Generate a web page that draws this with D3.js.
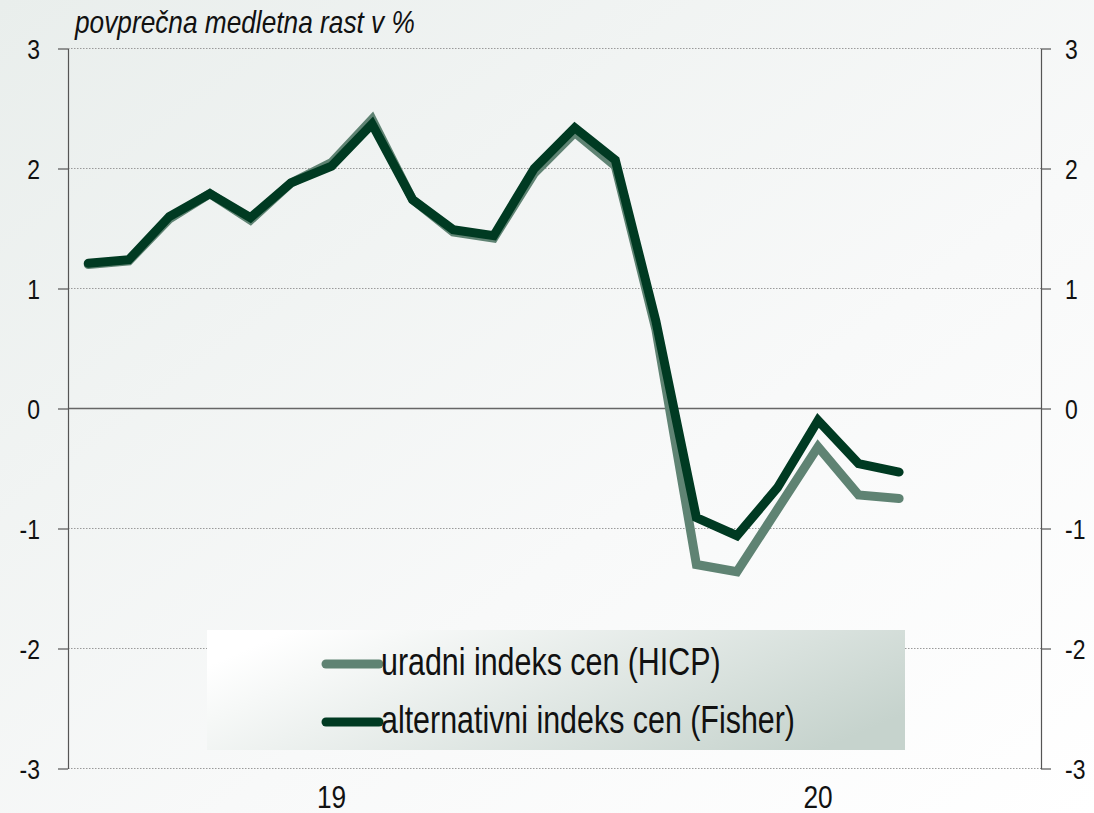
<!DOCTYPE html>
<html>
<head>
    <meta charset="utf-8">
    <title>Povprečna medletna rast</title>
    <script src="https://d3js.org/d3.v7.min.js"></script>
    <style>
        body { margin: 0; }
        text {
            font-family: "Liberation Sans Narrow", "Arial Narrow", "Liberation Sans", Arial, sans-serif;
            fill: #111;
        }
        .grid line { stroke: #9a9a9a; stroke-width: 1; stroke-dasharray: 1.5,1.5; }
        .axis path, .axis line { stroke: #555; stroke-width: 1.2; }
    </style>
</head>
<body>
    <svg width="1094" height="813"></svg>
    <script>
        // months Jan 2019 - Dec 2020
        var months = ["2019-01","2019-02","2019-03","2019-04","2019-05","2019-06",
                      "2019-07","2019-08","2019-09","2019-10","2019-11","2019-12",
                      "2020-01","2020-02","2020-03","2020-04","2020-05","2020-06",
                      "2020-07","2020-08","2020-09","2020-10","2020-11","2020-12"];
        var yearTicks = ["2019-07", "2020-07"];
        var yearLabels = ["19", "20"];

        var hicp   = [1.20, 1.23, 1.58, 1.79, 1.57, 1.88, 2.05, 2.41, 1.74, 1.47, 1.42,
                      1.96, 2.30, 2.02, 0.66, -1.30, -1.36, -0.84, -0.32, -0.72, -0.75];
        var fisher = [1.21, 1.24, 1.60, 1.79, 1.59, 1.88, 2.02, 2.37, 1.74, 1.49, 1.44,
                      2.00, 2.34, 2.07, 0.73, -0.91, -1.06, -0.66, -0.10, -0.46, -0.53];
        var yTicks = [-3, -2, -1, 0, 1, 2, 3];

        var svg = d3.select("svg"),
            width = +svg.attr("width"),
            height = +svg.attr("height");

        var mLeft = 68, mRight = 1041, mTop = 48.5, mBottom = 768.5;

        // squeeze text horizontally (no narrow font installed)
        function narrow (sel, k) {
            sel.each(function () {
                var w = this.getComputedTextLength();
                d3.select(this).attr("textLength", w * k).attr("lengthAdjust", "spacingAndGlyphs");
            });
        }

        // background
        var defs = svg.append("defs");
        var bg = defs.append("linearGradient").attr("id", "bg")
            .attr("x1", "0%").attr("y1", "0%").attr("x2", "100%").attr("y2", "100%");
        bg.append("stop").attr("offset", "0%").attr("stop-color", "#e9eeec");
        bg.append("stop").attr("offset", "60%").attr("stop-color", "#f8f9f9");
        bg.append("stop").attr("offset", "100%").attr("stop-color", "#ffffff");
        var lg = defs.append("linearGradient").attr("id", "lg")
            .attr("x1", "0%").attr("y1", "30%").attr("x2", "100%").attr("y2", "70%");
        lg.append("stop").attr("offset", "0%").attr("stop-color", "#ffffff");
        lg.append("stop").attr("offset", "100%").attr("stop-color", "#c6d3cd");

        svg.append("rect").attr("width", width).attr("height", height).attr("fill", "url(#bg)");

        var x = d3.scaleBand().domain(months).range([mLeft, mRight]);
        var y = d3.scaleLinear().domain([-3, 3]).range([mBottom, mTop]);
        var cx = d => x(d) + x.bandwidth() / 2;

        // gridlines
        svg.append("g").attr("class", "grid")
            .selectAll("line").data(yTicks.filter(d => d !== 0)).enter().append("line")
            .attr("x1", mLeft).attr("x2", mRight)
            .attr("y1", d => y(d)).attr("y2", d => y(d));
        svg.append("line")
            .attr("x1", mLeft).attr("x2", mRight)
            .attr("y1", y(0)).attr("y2", y(0))
            .attr("stroke", "#666").attr("stroke-width", 1.3);

        // axes
        var fmt = d => String(d);
        svg.append("g").attr("class", "axis")
            .attr("transform", "translate(" + mLeft + ",0)")
            .call(d3.axisLeft(y).tickValues(yTicks).tickFormat(fmt).tickSize(10).tickSizeOuter(0).tickPadding(18));
        svg.append("g").attr("class", "axis")
            .attr("transform", "translate(" + mRight + ",0)")
            .call(d3.axisRight(y).tickValues(yTicks).tickFormat(fmt).tickSize(10).tickSizeOuter(0).tickPadding(14));
        svg.selectAll(".axis text")
            .attr("font-size", 28).attr("fill", "#111").attr("dy", "0.36em")
            .call(narrow, 0.82);

        // x labels
        svg.append("g").selectAll("text").data(yearTicks).enter().append("text")
            .attr("x", d => cx(d)).attr("y", 808)
            .attr("text-anchor", "middle").attr("font-size", 32)
            .text((d, i) => yearLabels[i])
            .call(narrow, 0.82);

        // title
        svg.append("text").attr("x", 75).attr("y", 33)
            .attr("font-size", 32).attr("font-style", "italic")
            .text("povprečna medletna rast v %")
            .call(narrow, 0.82);

        // legend box
        svg.append("rect").attr("x", 207).attr("y", 630).attr("width", 698).attr("height", 120)
            .attr("fill", "url(#lg)");

        // lines
        var line = d3.line().x((d, i) => cx(months[i])).y(d => y(d));
        var series = [
            { name: "uradni indeks cen (HICP)", values: hicp, color: "#5f8373" },
            { name: "alternativni indeks cen (Fisher)", values: fisher, color: "#003a22" }
        ];
        svg.append("g").selectAll("path").data(series).enter().append("path")
            .attr("d", d => line(d.values))
            .attr("fill", "none")
            .attr("stroke", d => d.color)
            .attr("stroke-width", 9)
            .attr("stroke-linecap", "round")
            .attr("stroke-linejoin", "miter");

        // legend entries
        var leg = svg.append("g").selectAll("g").data(series).enter().append("g")
            .attr("transform", (d, i) => "translate(0," + (675 + i * 58) + ")");
        leg.append("line")
            .attr("x1", 326).attr("x2", 379)
            .attr("y1", -11).attr("y2", -11)
            .attr("stroke", d => d.color).attr("stroke-width", 9)
            .attr("stroke-linecap", "round");
        leg.append("text")
            .attr("x", 381).attr("y", 0)
            .attr("font-size", 38)
            .text(d => d.name)
            .call(narrow, 0.8);
    </script>
</body>
</html>
